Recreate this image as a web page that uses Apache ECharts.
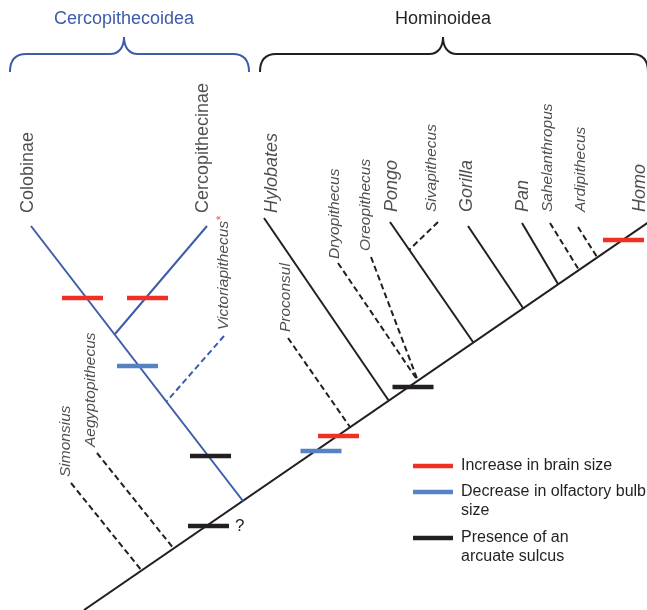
<!DOCTYPE html>
<html>
<head>
<meta charset="utf-8">
<script src="https://cdn.jsdelivr.net/npm/echarts@6/dist/echarts.min.js"></script>
<style>
  html, body { margin: 0; padding: 0; background: #fff; }
  #chart { width: 647px; height: 610px; }
</style>
</head>
<body>
<div id="chart"></div>
<script>
// Tree of catarrhine primates with brain-evolution events.
// Diagram coordinates: x runs left to right, y runs top to bottom.

// Main stem (ancestral catarrhine lineage up to Homo)
const stem = [[84, 610], [656, 217]];

// Taxa, in order along the stem
const taxa = ['Colobinae', 'Cercopithecinae', 'Victoriapithecus', 'Simonsius', 'Aegyptopithecus',
  'Proconsul', 'Hylobates', 'Dryopithecus', 'Oreopithecus', 'Pongo', 'Sivapithecus',
  'Gorilla', 'Pan', 'Sahelanthropus', 'Ardipithecus', 'Homo'];

// Fossil taxa are drawn dashed; Old World monkeys are drawn in blue
const fossil = [false, false, true, true, true, true, false, true, true, false, true, false, false, true, true, false];
const monkey = [true, true, true, false, false, false, false, false, false, false, false, false, false, false, false, false];
const extant = [true, true, false, false, false, false, true, false, false, true, false, true, true, false, false, true];
const italic = [false, false, true, true, true, true, true, true, true, true, true, true, true, true, true, true];

// Branch tips and the points where each branch joins its parent
const branchTip = [[31, 226], [207, 226], [224, 336], [71, 483], [97, 453], [288, 338], [264, 218],
  [338, 263], [371, 257], [390, 222], [438, 222], [468, 226], [522, 223], [550, 223], [578, 227], null];
const branchBase = [[243, 501], [115, 334], [167, 401], [142, 571], [174, 549], [350, 427], [389, 401],
  [418, 381], [418, 381], [473, 342], [409, 250], [523, 308], [558, 284], [579, 270], [597, 257], null];

// Name anchors (centre of the text line, start of the upright text)
const labelAt = [[28.2, 213], [203.2, 213], [224, 330], [65.7, 477], [90.7, 447], [285.7, 332], [271.5, 213],
  [335, 259], [365.7, 251], [391.5, 212], [431.7, 212], [467.2, 212], [523.2, 212], [547.4, 212], [580.7, 212], [639.8, 212]];

// Evolutionary events marked on the branches
const eventNames = ['Increase in brain size', 'Decrease in olfactory bulb size', 'Presence of an arcuate sulcus'];
const eventLines = [['Increase in brain size'], ['Decrease in olfactory bulb', 'size'], ['Presence of an', 'arcuate sulcus']];
const brainIncrease = [[82.5, 298], [147.5, 298], [338.5, 436], [623.5, 240]];
const olfactoryDecrease = [[137.5, 366], [321, 451]];
const arcuateSulcus = [[210.5, 456], [208.5, 526], [413, 387]];
const uncertainSulcus = 1; // index in arcuateSulcus flagged with '?'

// Superfamily brackets: [left end, right end, point]
const superfamilies = ['Cercopithecoidea', 'Hominoidea'];
const superfamilySpan = [[10, 249, 124], [260, 648, 443]];

const FONT = "'Liberation Sans', Arial, Helvetica, sans-serif";
const RED = '#ee3124', BAR_BLUE = '#5581c5', INK = '#231f20', CLADE_BLUE = '#3d5ca9';

const solid = [{ coords: stem }], dashed = [], blueSolid = [], blueDashed = [];
taxa.forEach((t, i) => {
  if (!branchBase[i]) return;
  const seg = { name: t, coords: [branchTip[i], branchBase[i]] };
  (monkey[i] ? (fossil[i] ? blueDashed : blueSolid) : (fossil[i] ? dashed : solid)).push(seg);
});

function segSeries(name, data, color, type) {
  return {
    type: 'lines', name, coordinateSystem: 'cartesian2d', polyline: false, silent: true, z: 2,
    data, lineStyle: { color, width: 2, type, opacity: 1, cap: 'butt' }
  };
}

function markSeries(name, data, color) {
  return {
    type: 'scatter', name, data, symbol: 'rect', symbolSize: [41, 4.5], silent: true, z: 5,
    itemStyle: { color, opacity: 1 }
  };
}

const sulcusData = arcuateSulcus.map((p, i) => i === uncertainSulcus ? {
  value: p,
  label: { show: true, formatter: '?', position: 'right', distance: 6, fontSize: 17, color: INK, fontFamily: FONT }
} : { value: p });

const taxonLabels = taxa.map((t, i) => {
  const size = extant[i] ? 18 : 15.5;
  const item = {
    name: t, value: labelAt[i],
    label: { fontSize: size, fontStyle: italic[i] ? 'italic' : 'normal' }
  };
  if (t === 'Victoriapithecus') {
    item.label.formatter = '{n|Victoriapithecus}{a|*}';
    item.label.rich = {
      n: { fontSize: size, fontStyle: 'italic', color: INK, fontFamily: FONT },
      a: { fontSize: 12, color: RED, fontFamily: FONT, verticalAlign: 'top' }
    };
  }
  return item;
});

// One legend per event; wrapped entries keep their key beside the first line
// by balancing the text block with an empty line above it.
function legendFor(i, top) {
  const lines = eventLines[i];
  const text = lines.length > 1 ? ['\u200b'].concat(lines).join('\n') : lines[0];
  return {
    data: [eventNames[i]], orient: 'vertical', left: 413, top, padding: 0,
    icon: 'rect', itemWidth: 40, itemHeight: 4.5, selectedMode: false,
    formatter: () => text,
    textStyle: { fontSize: 16, color: INK, fontFamily: FONT, lineHeight: 19, padding: [0, 0, 0, 3] }
  };
}

const option = {
  animation: false,
  backgroundColor: '#ffffff',
  grid: { left: 0, right: 0, top: 0, bottom: 0 },
  xAxis: { type: 'value', min: 0, max: 647, show: false },
  yAxis: { type: 'value', min: 0, max: 610, inverse: true, show: false },
  legend: [legendFor(0, 456.5), legendFor(1, 463.5), legendFor(2, 509.5)],
  series: [
    segSeries('stem and extant branches', solid, INK, 'solid'),
    segSeries('fossil branches', dashed, INK, [6, 3.5]),
    segSeries('monkey branches', blueSolid, CLADE_BLUE, 'solid'),
    segSeries('fossil monkey branches', blueDashed, CLADE_BLUE, [6, 3.5]),
    markSeries(eventNames[0], brainIncrease, RED),
    markSeries(eventNames[1], olfactoryDecrease, BAR_BLUE),
    markSeries(eventNames[2], sulcusData, INK),
    {
      type: 'scatter', name: 'taxa', data: taxonLabels, symbolSize: 1, silent: true, z: 6,
      itemStyle: { color: 'rgba(0,0,0,0)' },
      label: {
        show: true, position: 'inside', rotate: 90, align: 'left', verticalAlign: 'middle',
        formatter: '{b}', color: INK, fontFamily: FONT
      }
    },
    {
      type: 'custom', name: 'superfamilies', coordinateSystem: 'cartesian2d', silent: true, clip: false,
      data: superfamilySpan.map((s, i) => [s[0], s[1], s[2], i]),
      renderItem(params, api) {
        const i = api.value(3);
        const color = i === 0 ? CLADE_BLUE : INK;
        const [x0, yEnd] = api.coord([api.value(0), 72]);
        const [x1] = api.coord([api.value(1), 72]);
        const [xt, yTip] = api.coord([api.value(2), 37]);
        const yBar = api.coord([0, 54])[1];
        const d = `M${x0},${yEnd} Q${x0},${yBar} ${x0 + 16},${yBar} L${xt - 14},${yBar} ` +
          `C${xt - 4},${yBar} ${xt},${yBar - 8} ${xt},${yTip} ` +
          `C${xt},${yBar - 8} ${xt + 4},${yBar} ${xt + 14},${yBar} L${x1 - 16},${yBar} ` +
          `Q${x1},${yBar} ${x1},${yEnd}`;
        const yText = api.coord([0, 19])[1];
        return {
          type: 'group',
          children: [
            { type: 'path', shape: { pathData: d }, style: { stroke: color, fill: null, lineWidth: 2 } },
            {
              type: 'text', x: xt, y: yText,
              style: { text: superfamilies[i], fill: color, fontSize: 18, fontFamily: FONT, align: 'center', verticalAlign: 'middle' }
            }
          ]
        };
      }
    }
  ]
};

const chart = echarts.init(document.getElementById('chart'));
chart.setOption(option);
</script>
</body>
</html>
